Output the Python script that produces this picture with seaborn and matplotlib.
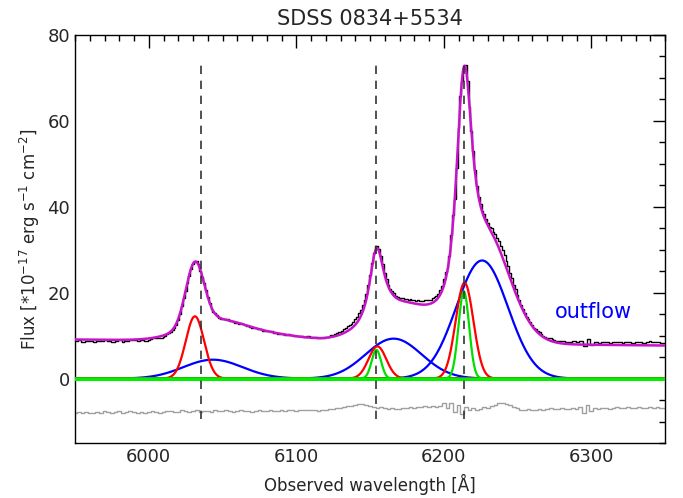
import numpy as np
import pandas as pd
import matplotlib
matplotlib.use("Agg")
import matplotlib.pyplot as plt
import seaborn as sns
from matplotlib.ticker import MultipleLocator

# ---------------- data ----------------
title = "SDSS 0834+5534"
x_label = "Observed wavelength [Å]"
y_label = r"Flux [*10$^{-17}$ erg s$^{-1}$ cm$^{-2}$]"
x_limits = [5950, 6350]
y_limits = [-15, 80]
x_major_ticks = [6000, 6100, 6200, 6300]
y_major_ticks = [0, 20, 40, 60, 80]

# continuum level at the two ends of the window
cont_wave = [5950, 6350]
cont_flux = [9.1, 7.7]

# red (core) gaussian components: centre, peak, sigma
core_centers = [6031.3, 6155.0, 6214.1]
core_amps = [14.5, 7.5, 22.3]
core_sigmas = [6.2, 6.0, 6.0]

# green (narrow) gaussian components
narrow_centers = [6154.3, 6213.6]
narrow_amps = [6.7, 20.3]
narrow_sigmas = [3.2, 3.6]

# blue (outflow) gaussian components
outflow_centers = [6043.5, 6166.0, 6226.0]
outflow_amps = [4.4, 9.3, 27.5]
outflow_sigmas = [20.0, 19.0, 17.5]

# fitted components that are part of the total fit but not drawn
other_centers = [6080.0, 6188.0]
other_amps = [1.6, 1.6]
other_sigmas = [26.0, 11.0]

# dashed line positions and their vertical extent
line_marks = [6035.3, 6154.3, 6213.6]
mark_span = [-9.5, 73.0]

# residual (data - fit, shifted), in 2.5 A bins from 5950 A
resid_start = 5950.0
resid_step = 2.5
pixels_per_bin = 2
resid_zero = -7.5
residual = [
    -7.9, -7.7, -8.0, -7.8, -7.9, -8.1, -7.8, -7.9, -7.6, -7.8,
    -7.9, -7.7, -7.6, -7.9, -7.8, -7.6, -7.7, -7.9, -7.8, -8.0,
    -7.8, -7.6, -7.7, -7.9, -7.8, -7.5, -7.6, -7.8, -7.7, -7.4,
    -7.6, -7.8, -7.5, -7.3, -7.7, -7.5, -7.6, -7.8, -7.4, -7.6,
    -7.5, -7.3, -7.5, -7.7, -7.6, -7.4, -7.6, -7.5, -7.7, -7.5,
    -7.4, -7.6, -7.5, -7.3, -7.5, -7.6, -7.4, -7.5, -7.3, -7.4,
    -7.5, -7.3, -7.4, -7.2, -7.4, -7.3, -7.5, -7.4, -7.3, -7.1,
    -7.0, -6.8, -6.9, -6.6, -6.4, -6.5, -6.2, -6.0, -5.9, -6.2,
    -6.4, -6.6, -6.9, -6.7, -6.8, -7.0, -6.9, -7.1, -7.0, -6.8,
    -6.9, -6.7, -6.8, -6.6, -6.7, -6.5, -6.6, -6.4, -6.7, -6.3,
    -5.8, -6.9, -5.6, -7.8, -6.2, -8.2, -6.6, -7.4, -6.8, -7.2,
    -7.0, -6.7, -6.9, -6.5, -6.1, -5.8, -5.7, -5.9, -6.2, -6.6,
    -6.9, -7.2, -7.3, -7.1, -7.3, -7.2, -7.0, -7.2, -7.1, -6.9,
    -7.1, -7.0, -6.9, -7.1, -7.0, -6.8, -7.0, -6.6, -7.9, -6.2,
    -7.6, -6.8, -7.0, -6.9, -6.8, -7.0, -6.9, -6.7, -6.9, -6.8,
    -6.7, -6.9, -6.8, -6.7, -6.9, -6.8, -6.6, -6.8, -6.7, -6.9,
    -6.8,
]

annot_text = "outflow"
annot_pos = [6275, 15.6]

# ---------------- model evaluation ----------------
def gauss(w, c, a, s):
    return a * np.exp(-0.5 * ((w - c) / s) ** 2)

def model(w):
    tot = np.interp(w, cont_wave, cont_flux)
    groups = [(core_centers, core_amps, core_sigmas),
              (narrow_centers, narrow_amps, narrow_sigmas),
              (outflow_centers, outflow_amps, outflow_sigmas),
              (other_centers, other_amps, other_sigmas)]
    for cs, amps, sigs in groups:
        for c, a, s in zip(cs, amps, sigs):
            tot = tot + gauss(w, c, a, s)
    return tot

wave = np.arange(x_limits[0], x_limits[1] + 0.01, 0.5)
resid_arr = np.array(residual)
resid_wave = resid_start + resid_step * np.arange(len(residual))
pix_wave = resid_start + (resid_step / pixels_per_bin) * np.arange(len(residual) * pixels_per_bin)
pix_resid = np.repeat(resid_arr, pixels_per_bin)
data_flux = model(pix_wave) + (pix_resid - resid_zero)

# ---------------- plotting ----------------
sns.set_style("white")
plt.rcParams['font.family'] = ['DejaVu Sans']

fig = plt.figure(figsize=(6.83, 4.98), dpi=100)
ax = fig.add_axes([75 / 683, 1 - 443 / 498, 590 / 683, 408 / 498])

df_data = pd.DataFrame({"w": pix_wave, "f": data_flux})
sns.lineplot(data=df_data, x="w", y="f", ax=ax, color="black", lw=1.0,
             drawstyle="steps-mid", estimator=None, sort=False, zorder=2)

df_fit = pd.DataFrame({"w": wave, "f": model(wave)})
sns.lineplot(data=df_fit, x="w", y="f", ax=ax, color="#c814c8", lw=1.8,
             estimator=None, sort=False, zorder=3)

for c, a, s in zip(outflow_centers, outflow_amps, outflow_sigmas):
    sns.lineplot(x=wave, y=gauss(wave, c, a, s), ax=ax, color="#0000ff",
                 lw=1.6, estimator=None, sort=False, zorder=4)
for c, a, s in zip(core_centers, core_amps, core_sigmas):
    sns.lineplot(x=wave, y=gauss(wave, c, a, s), ax=ax, color="#ff0000",
                 lw=1.6, estimator=None, sort=False, zorder=5)
for c, a, s in zip(narrow_centers, narrow_amps, narrow_sigmas):
    sns.lineplot(x=wave, y=gauss(wave, c, a, s), ax=ax, color="#00e000",
                 lw=1.6, estimator=None, sort=False, zorder=6)

sns.lineplot(x=wave, y=np.zeros_like(wave), ax=ax, color="#00f000", lw=2.2,
             estimator=None, sort=False, zorder=7)

df_res = pd.DataFrame({"w": resid_wave, "f": resid_arr})
sns.lineplot(data=df_res, x="w", y="f", ax=ax, color="#a0a0a0", lw=1.0,
             drawstyle="steps-mid", estimator=None, sort=False, zorder=2)

for xm in line_marks:
    ax.plot([xm, xm], mark_span, color="#333333", lw=1.2,
            dashes=(5, 4), zorder=8)

ax.text(annot_pos[0], annot_pos[1], annot_text, color="#0000ff",
        fontsize=15, va="center", ha="left")

ax.set_xlim(x_limits)
ax.set_ylim(y_limits)
ax.set_xticks(x_major_ticks)
ax.set_yticks(y_major_ticks)
ax.xaxis.set_minor_locator(MultipleLocator(10))
ax.yaxis.set_minor_locator(MultipleLocator(5))
ax.tick_params(which="both", direction="in", top=True, right=True,
               width=1.0, color="black", labelsize=13)
ax.tick_params(which="major", length=9)
ax.tick_params(which="minor", length=4.5)
for sp in ax.spines.values():
    sp.set_linewidth(1.0)
    sp.set_color("black")

ax.set_xlabel(x_label, fontsize=12, labelpad=6)
ax.set_ylabel(y_label, fontsize=12, labelpad=4)
ax.set_title(title, fontsize=15, pad=7)

fig.savefig("out.png", dpi=100)
